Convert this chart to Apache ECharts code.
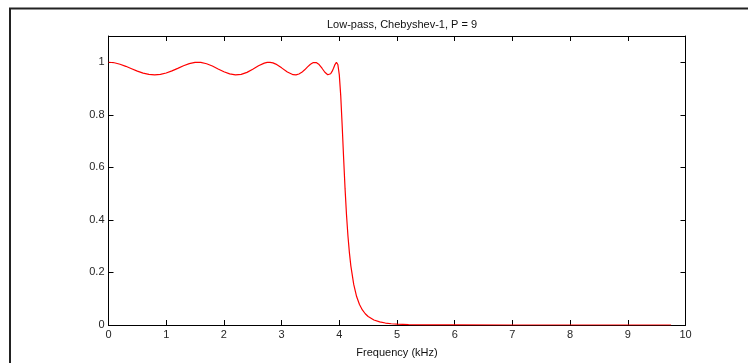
<!DOCTYPE html>
<html>
<head>
<meta charset="utf-8">
<script src="https://cdn.jsdelivr.net/npm/echarts@6/dist/echarts.min.js"></script>
<style>
html,body{margin:0;padding:0;background:#fff;}
#c{width:748px;height:363px;}
</style>
</head>
<body>
<div id="c"></div>
<script>
var titleText = 'Low-pass, Chebyshev-1, P = 9';
var xLabel = 'Frequency (kHz)';
var freq = [0,0.1,0.2,0.3,0.4,0.5,0.6,0.7,0.8,0.9,1.0,1.1,1.2,1.3,1.4,1.5,1.6,1.7,1.8,1.9,2.0,2.1,2.2,2.3,2.4,2.5,2.6,2.7,2.75,2.8,2.85,2.9,3.0,3.1,3.2,3.25,3.3,3.35,3.4,3.45,3.5,3.55,3.6,3.65,3.7,3.75,3.8,3.85,3.875,3.9,3.925,3.95,3.975,4.0,4.025,4.05,4.075,4.1,4.125,4.15,4.175,4.2,4.25,4.3,4.35,4.4,4.45,4.5,4.6,4.7,4.8,4.9,5.0,5.2,5.5,6.0,7.0,8.0,9.0,9.75];
var mag = [1.0,0.9981,0.9926,0.9846,0.9754,0.9663,0.9587,0.9537,0.952,0.9538,0.9591,0.9671,0.9768,0.9866,0.9947,0.9994,0.9994,0.9945,0.9857,0.9747,0.964,0.9558,0.9521,0.9539,0.9615,0.9733,0.9866,0.9969,0.9995,0.9998,0.9977,0.9931,0.9787,0.9627,0.9528,0.9522,0.9552,0.9617,0.9713,0.9823,0.9924,0.9991,0.999,0.9913,0.9773,0.962,0.9526,0.9564,0.9651,0.9774,0.9912,0.9997,0.9916,0.952,0.8721,0.7587,0.6345,0.518,0.4189,0.3389,0.2756,0.2251,0.1544,0.1084,0.078,0.0573,0.0428,0.0324,0.0192,0.0118,0.0075,0.0048,0.0032,0.0014,0.0005,0.0001,0,0,0,0];
var xTicks = [0,1,2,3,4,5,6,7,8,9,10];
var yTicks = [0,0.2,0.4,0.6,0.8,1];

var pts = freq.map(function(f,i){return [f, mag[i]];});
var chart = echarts.init(document.getElementById('c'), null, {renderer:'canvas'});
var txt = '#262626';
var font = 'Liberation Sans, Arial, sans-serif';
var L = 108.5, R = 62.5, T = 36, B = 38;
chart.setOption({
  animation:false,
  backgroundColor:'#fff',
  textStyle:{fontFamily:font},
  title:{
    text:titleText, left:397, top:14, textAlign:'center',
    textStyle:{fontSize:11, fontWeight:'normal', color:'#111', fontFamily:font}
  },
  graphic:[{
    type:'rect', silent:true,
    shape:{x:10, y:8.5, width:800, height:420},
    style:{fill:'none', stroke:'#222', lineWidth:2}
  }],
  grid:{left:L, right:R, top:T, bottom:B, show:false},
  xAxis:[{
    type:'value', min:xTicks[0], max:xTicks[xTicks.length-1], interval:1,
    position:'bottom',
    name:xLabel, nameLocation:'middle', nameGap:22,
    nameTextStyle:{fontSize:11, color:'#111', fontFamily:font},
    axisLine:{show:true, onZero:false, lineStyle:{color:'#000', width:1}},
    axisTick:{show:true, inside:true, length:5, lineStyle:{color:'#000'}},
    axisLabel:{show:true, margin:4, fontSize:11, color:txt, fontFamily:font},
    splitLine:{show:false}
  },{
    type:'value', min:xTicks[0], max:xTicks[xTicks.length-1], interval:1,
    position:'top',
    axisLine:{show:true, onZero:false, lineStyle:{color:'#000', width:1}},
    axisTick:{show:true, inside:true, length:5, lineStyle:{color:'#000'}},
    axisLabel:{show:false},
    splitLine:{show:false}
  }],
  yAxis:[{
    type:'value', min:0, max:1.1, interval:0.2,
    position:'left',
    axisLine:{show:true, onZero:false, lineStyle:{color:'#000', width:1}},
    axisTick:{show:true, inside:true, length:5, lineStyle:{color:'#000'}},
    axisLabel:{show:true, margin:4, fontSize:11, color:txt, fontFamily:font, showMaxLabel:false,
      formatter:function(v){ return yTicks.indexOf(Math.round(v*10)/10) >= 0 ? String(Math.round(v*10)/10) : ''; }},
    splitLine:{show:false}
  },{
    type:'value', min:0, max:1.1, interval:0.2,
    position:'right',
    axisLine:{show:true, onZero:false, lineStyle:{color:'#000', width:1}},
    axisTick:{show:true, inside:true, length:5, lineStyle:{color:'#000'}},
    axisLabel:{show:false},
    splitLine:{show:false}
  }],
  series:[{
    type:'line', xAxisIndex:0, yAxisIndex:0,
    data:pts, showSymbol:false, symbol:'none', smooth:false,
    lineStyle:{color:'#ff0000', width:1.2},
    z:3
  }]
});
</script>
</body>
</html>
